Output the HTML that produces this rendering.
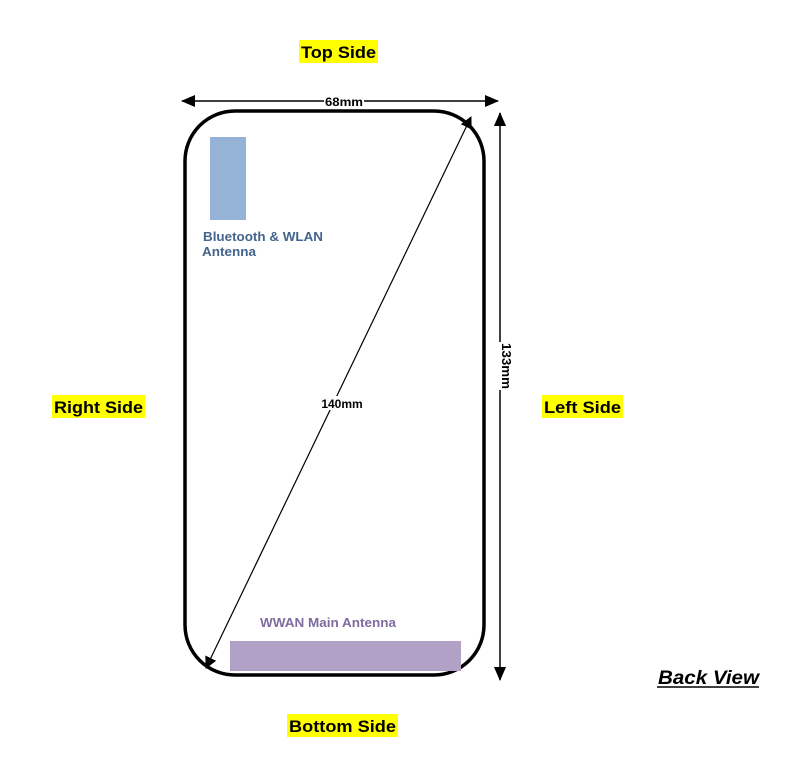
<!DOCTYPE html>
<html><head><meta charset="utf-8"><style>
html,body{margin:0;padding:0;background:#fff;}
svg{display:block;}
text{font-family:"Liberation Sans",Arial,sans-serif;}
</style></head><body>
<svg width="806" height="766" viewBox="0 0 806 766" xmlns="http://www.w3.org/2000/svg">
<defs>
<marker id="ah" markerWidth="12" markerHeight="12" refX="11" refY="6" orient="auto" markerUnits="userSpaceOnUse" viewBox="0 0 12 12">
<path d="M0,0 L12,6 L0,12 z" fill="#000"/></marker>
<marker id="as" markerWidth="12" markerHeight="12" refX="1" refY="6" orient="auto" markerUnits="userSpaceOnUse" viewBox="0 0 12 12">
<path d="M12,0 L0,6 L12,12 z" fill="#000"/></marker>
<marker id="ah2" markerWidth="14" markerHeight="12" refX="13" refY="6" orient="auto" markerUnits="userSpaceOnUse" viewBox="0 0 14 12">
<path d="M0,0 L14,6 L0,12 z" fill="#000"/></marker>
<marker id="as2" markerWidth="14" markerHeight="12" refX="1" refY="6" orient="auto" markerUnits="userSpaceOnUse" viewBox="0 0 14 12">
<path d="M14,0 L0,6 L14,12 z" fill="#000"/></marker>
</defs>
<rect x="185" y="111" width="299" height="564" rx="50" ry="50" fill="none" stroke="#000" stroke-width="3.5"/>
<rect x="210" y="137" width="36" height="83" fill="#95b3d7"/>
<rect x="230" y="641" width="231" height="30" fill="#b2a1c7"/>
<line x1="182" y1="101" x2="498" y2="101" stroke="#000" stroke-width="1.5" marker-start="url(#as2)" marker-end="url(#ah2)"/>
<rect x="324" y="95" width="40" height="12" fill="#fff"/>
<text x="344" y="106" font-size="12" font-weight="bold" text-anchor="middle" textLength="38" lengthAdjust="spacingAndGlyphs">68mm</text>
<line x1="500" y1="113" x2="500" y2="680" stroke="#000" stroke-width="1.5" marker-start="url(#as2)" marker-end="url(#ah2)"/>
<rect x="494" y="342" width="12" height="48" fill="#fff"/>
<text transform="translate(502,366) rotate(90)" font-size="13" font-weight="bold" text-anchor="middle" textLength="46" lengthAdjust="spacingAndGlyphs">133mm</text>
<line x1="206" y1="668" x2="471" y2="117" stroke="#000" stroke-width="1.2" marker-start="url(#as)" marker-end="url(#ah)"/>
<rect x="318" y="396" width="48" height="14" fill="#fff"/>
<text x="342" y="408" font-size="12" font-weight="bold" text-anchor="middle">140mm</text>
<text x="203" y="241" font-size="13" font-weight="bold" fill="#44648e" textLength="120" lengthAdjust="spacingAndGlyphs">Bluetooth &amp; WLAN</text>
<text x="202" y="256" font-size="13" font-weight="bold" fill="#44648e" textLength="54" lengthAdjust="spacingAndGlyphs">Antenna</text>
<text x="260" y="627" font-size="13" font-weight="bold" fill="#7e6ca0" textLength="136" lengthAdjust="spacingAndGlyphs">WWAN Main Antenna</text>
<rect x="299" y="40" width="79" height="23" fill="#ffff00"/>
<text x="338.5" y="58" font-size="17" font-weight="bold" text-anchor="middle" textLength="75" lengthAdjust="spacingAndGlyphs">Top Side</text>
<rect x="287" y="714" width="111" height="23" fill="#ffff00"/>
<text x="342.5" y="732" font-size="17" font-weight="bold" text-anchor="middle" textLength="107" lengthAdjust="spacingAndGlyphs">Bottom Side</text>
<rect x="52" y="395" width="93" height="23" fill="#ffff00"/>
<text x="98.5" y="413" font-size="17" font-weight="bold" text-anchor="middle" textLength="89" lengthAdjust="spacingAndGlyphs">Right Side</text>
<rect x="542" y="395" width="81" height="23" fill="#ffff00"/>
<text x="582.5" y="413" font-size="17" font-weight="bold" text-anchor="middle" textLength="77" lengthAdjust="spacingAndGlyphs">Left Side</text>
<text x="658" y="684" font-size="19" font-weight="bold" font-style="italic" textLength="101" lengthAdjust="spacingAndGlyphs">Back View</text>
<line x1="657" y1="687" x2="759" y2="687" stroke="#000" stroke-width="1.5"/>
</svg>
</body></html>
